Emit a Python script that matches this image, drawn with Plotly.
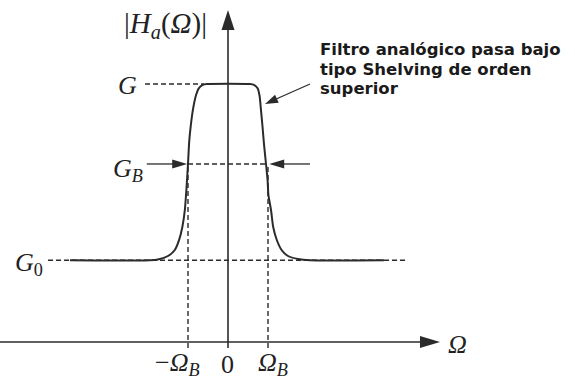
import math
import plotly.graph_objects as go

# Magnitude |H_a(Ω)| of a higher-order shelving low-pass filter, sampled along the curve
omega = [-3.95, -1.95, -1.75, -1.5, -1.33, -1.22, -1.14, -1.08, -1.04, -1.0,
         -0.97, -0.93, -0.87, -0.8, -0.73, -0.63, -0.53,
         0.55, 0.65, 0.74, 0.79, 0.82, 0.86, 0.9, 0.95, 0.99, 1.01, 1.075,
         1.13, 1.22, 1.34, 1.5, 1.75, 2.05, 3.9]
magnitude = [0.95, 0.95, 0.96, 1.0, 1.07, 1.19, 1.34, 1.53, 1.77, 2.07,
             2.33, 2.52, 2.72, 2.87, 2.95, 2.99, 3.0,
             3.0, 2.99, 2.95, 2.86, 2.72, 2.52, 2.3, 2.07, 1.88, 1.71, 1.535,
             1.337, 1.186, 1.07, 1.0, 0.965, 0.95, 0.95]

# Reference levels
G = 3.0
G_B = 2.07
G_0 = 0.95
OMEGA_B = 1.0

# Tick labels along the Ω axis
tick_pos = [-OMEGA_B, 0.0, OMEGA_B]
tick_text = ["−<i>Ω<sub>B</sub></i>", "0", "<i>Ω<sub>B</sub></i>"]
tick_shift = [-11, -1, 5]

W, H = 575, 381
X_RANGE = [-5.7, 8.675]
Y_RANGE = [-0.4535, 3.9767]
PX_X = W / (X_RANGE[1] - X_RANGE[0])
PX_Y = H / (Y_RANGE[1] - Y_RANGE[0])

INK = "#2b2b2b"
SERIF = "Liberation Serif"

fig = go.Figure()
fig.add_trace(go.Scatter(
    x=omega, y=magnitude, mode="lines",
    line=dict(color=INK, width=2, shape="spline", smoothing=0.6),
    hoverinfo="skip", showlegend=False,
))


def seg(x0, y0, x1, y1, dash=None, width=1.4):
    fig.add_shape(type="line", x0=x0, y0=y0, x1=x1, y1=y1, layer="below",
                  line=dict(color=INK, width=width, dash=dash))


def head(tx, ty, fx, fy, length, half):
    """Filled triangular arrowhead with its tip at (tx, ty), pointing away from (fx, fy)."""
    dxp = (tx - fx) * PX_X
    dyp = (ty - fy) * PX_Y
    n = math.hypot(dxp, dyp)
    ux, uy = dxp / n, dyp / n
    bx, by = -ux * length, -uy * length
    px, py = -uy * half, ux * half
    pts = [(tx, ty),
           (tx + (bx + px) / PX_X, ty + (by + py) / PX_Y),
           (tx + (bx - px) / PX_X, ty + (by - py) / PX_Y)]
    path = "M" + " L".join(f"{a:.4f},{b:.4f}" for a, b in pts) + " Z"
    fig.add_shape(type="path", path=path, fillcolor=INK, line=dict(width=0))


DASH = "5px,3px"
below = -6 / PX_Y

# Axes
x_left = X_RANGE[0]
x_tip = 5.3
y_tip = 3.86
seg(x_left, 0, x_tip - 18 / PX_X, 0, width=1.6)
head(x_tip, 0, x_left, 0, 20, 6)
seg(0, below, 0, y_tip - 18 / PX_Y, width=1.6)
head(0, y_tip, 0, 0, 20, 6.5)

# Level G
seg(-2.075, G, -0.6, G, dash=DASH)
# Level G_B: arrows converge on the band edges
seg(-OMEGA_B, G_B, 0.95, G_B, dash=DASH)
gb_left_tail = -2.03
seg(gb_left_tail, G_B, -1.02 - 13 / PX_X, G_B, width=1.3)
head(-1.02, G_B, gb_left_tail, G_B, 15, 4.5)
gb_right_tail = 2.05
seg(gb_right_tail, G_B, 1.03 + 13 / PX_X, G_B, width=1.3)
head(1.03, G_B, gb_right_tail, G_B, 15, 4.5)
# Level G_0
seg(-4.5, G_0, 4.48, G_0, dash=DASH)
# Band edges
for xe in (-OMEGA_B, OMEGA_B):
    seg(xe, below, xe, G_B, dash=DASH)

# Callout arrow
cx0, cy0 = 2.05, 3.0
cx1, cy1 = 0.925, 2.767
shaft_len = math.hypot((cx1 - cx0) * PX_X, (cy1 - cy0) * PX_Y)
f = (shaft_len - 11) / shaft_len
seg(cx0, cy0, cx0 + (cx1 - cx0) * f, cy0 + (cy1 - cy0) * f, width=1.2)
head(cx1, cy1, cx0, cy0, 13, 4.5)

math_font = dict(family=SERIF, size=26, color="#222222")


def label(x, y, text, xanchor="center", yanchor="middle", xshift=0, yshift=0,
          font=None, align="center"):
    fig.add_annotation(x=x, y=y, text=text, showarrow=False, xanchor=xanchor,
                       yanchor=yanchor, xshift=xshift, yshift=yshift,
                       font=font or math_font, align=align)


label(-1.5625, 3.686, "|<i>H<sub>a</sub></i>(<i>Ω</i>)|",
      font=dict(family=SERIF, size=29, color="#222222"))
label(-2.525, G, "<i>G</i>", yshift=-1)
label(-2.5, G_B, "<i>G<sub>B</sub></i>", yshift=-6)
label(-4.975, G_0, "<i>G</i><sub>0</sub>", yshift=-4)
for xp, tt, sh in zip(tick_pos, tick_text, tick_shift):
    label(xp, 0, tt, yshift=-22, xshift=sh)
label(x_tip, 0, "<i>Ω</i>", xanchor="left", xshift=6, yshift=-2)

# Callout note: compact line pitch
note_lines = ["Filtro analógico pasa bajo", "tipo Shelving de orden", "superior"]
note_text = "<br>".join(f'<span style="font-size:16.5px">{t}</span>' for t in note_lines)
note_font = dict(family="DejaVu Sans", size=15, color="#1a1a1a", weight="bold")
label(2.25, 0, note_text, xanchor="left", yanchor="top", align="left",
      yshift=(342 - 38), font=note_font)

fig.update_layout(
    width=W, height=H,
    margin=dict(l=0, r=0, t=0, b=0),
    paper_bgcolor="white", plot_bgcolor="white",
    xaxis=dict(range=X_RANGE, visible=False, fixedrange=True),
    yaxis=dict(range=Y_RANGE, visible=False, fixedrange=True),
    showlegend=False,
)

fig.write_html("out.html")
